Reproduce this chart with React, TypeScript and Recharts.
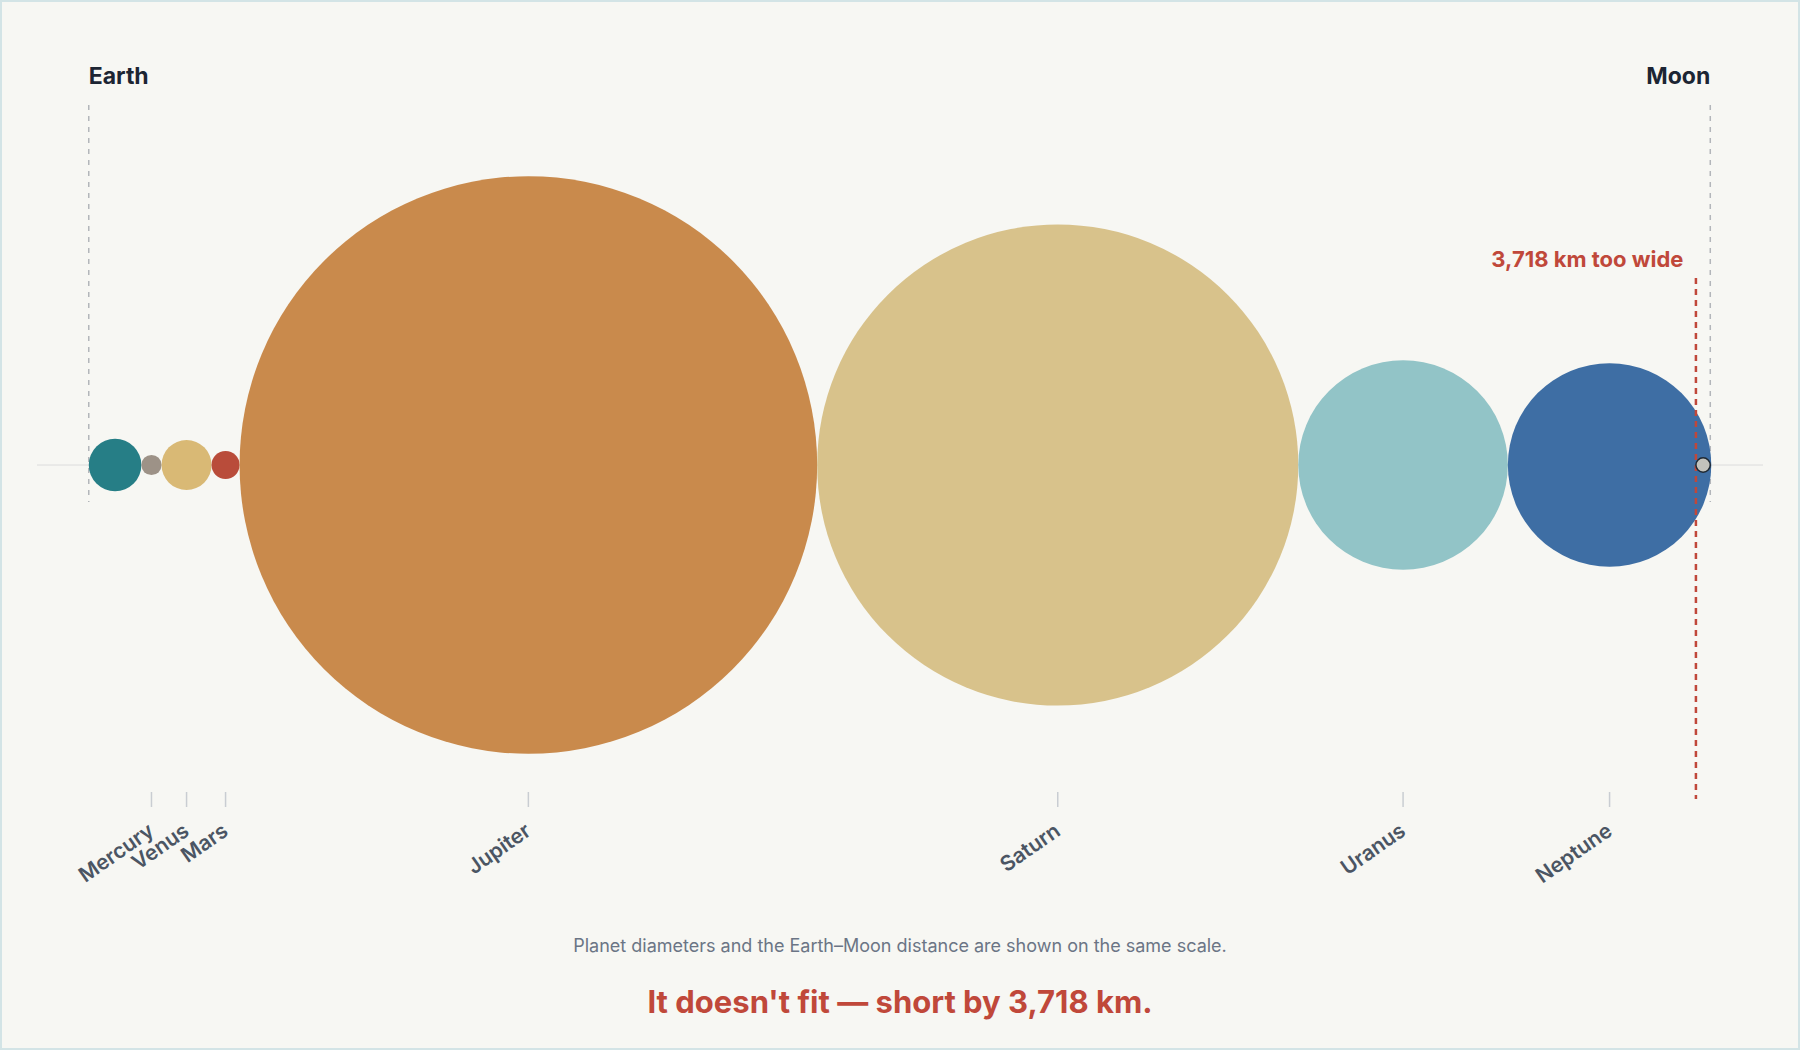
import { ScatterChart, Scatter, XAxis, YAxis, ReferenceLine } from "recharts";

const PLANETS = ["Mercury", "Venus", "Mars", "Jupiter", "Saturn", "Uranus", "Neptune"];
const DIAMETERS_KM = [4879, 12104, 6779, 139820, 116460, 50724, 49244];
const PLANET_COLORS = ["#9d9287", "#d9b975", "#b94c3a", "#c98a4c", "#d8c28b", "#92c4c7", "#3e6ea4"];

const EARTH_RADIUS_KM = 6371;
const MOON_RADIUS_KM = 1737;
const EARTH_MOON_KM = 384400;

const FONT = "Inter, 'Noto Sans', sans-serif";
const RED = "#c0483a";
const INK = "#1c2533";

const WIDTH = 1800;
const HEIGHT = 930;
const MARGIN = { top: 105, right: 37, bottom: 78, left: 37 };
const X_DOMAIN: [number, number] = [-18900, 398900];
// y is kept in pixel-like units, 0 = the line through the circle centres
const Y_DOMAIN: [number, number] = [-327, 360];
const KM_PX = (WIDTH - MARGIN.left - MARGIN.right) / (X_DOMAIN[1] - X_DOMAIN[0]);

// planets laid side by side, starting at Earth's surface
const planetData = (() => {
  let edge = EARTH_RADIUS_KM;
  return PLANETS.map((name, i) => {
    const d = DIAMETERS_KM[i];
    const x = edge + d / 2;
    edge += d;
    return { name, x, y: 0, d, color: PLANET_COLORS[i] };
  });
})();

const earthData = [{ name: "Earth", x: 0, y: 0, d: EARTH_RADIUS_KM * 2, color: "#267e86" }];
const moonData = [{ name: "Moon", x: EARTH_MOON_KM, y: 0, d: MOON_RADIUS_KM * 2, color: "#c2c2bc" }];

const gapKm = EARTH_MOON_KM - EARTH_RADIUS_KM - MOON_RADIUS_KM;
const shortKm = DIAMETERS_KM.reduce((s, d) => s + d, 0) - gapKm;
const shortText = shortKm.toLocaleString("en-US");

const tickValues = planetData.map((p) => p.x);

function Ball(props: any) {
  const { cx, cy, payload } = props;
  const isMoon = payload.name === "Moon";
  return (
    <circle
      cx={cx}
      cy={cy}
      r={(payload.d / 2) * KM_PX}
      fill={payload.color}
      stroke={isMoon ? "#1f2933" : "none"}
      strokeWidth={isMoon ? 1.5 : 0}
    />
  );
}

function PlanetTick(props: any) {
  const { x, y, payload } = props;
  const p = planetData.find((q) => Math.abs(q.x - payload.value) < 1);
  if (!p) return null;
  const tx = x + 4;
  const ty = y + 25;
  return (
    <text
      x={tx}
      y={ty}
      textAnchor="end"
      transform={`rotate(-35, ${tx}, ${ty})`}
      fill="#4b5563"
      fontFamily={FONT}
      fontSize={21}
      fontWeight={600}
    >
      {p.name}
    </text>
  );
}

const edgeLabel =
  (text: string, anchor: "start" | "end", dx: number, dy: number, color: string, size: number) =>
  (props: any) => {
    const vb = props.viewBox || {};
    return (
      <text
        x={vb.x + dx}
        y={vb.y + dy}
        textAnchor={anchor}
        fill={color}
        fontFamily={FONT}
        fontSize={size}
        fontWeight={700}
      >
        {text}
      </text>
    );
  };

export default function App() {
  const earthEdge = -EARTH_RADIUS_KM;
  const moonFar = EARTH_MOON_KM + MOON_RADIUS_KM;
  const moonNear = EARTH_MOON_KM - MOON_RADIUS_KM;

  return (
    <div
      style={{
        position: "absolute",
        left: 0,
        top: 0,
        width: 1800,
        height: 1050,
        background: "#f7f7f3",
        boxShadow: "inset 0 0 0 2px #d3e4e6",
        fontFamily: FONT,
      }}
    >
      <div style={{ position: "absolute", left: 0, top: 0 }}>
        <ScatterChart width={WIDTH} height={HEIGHT} margin={MARGIN}>
          <XAxis
            type="number"
            dataKey="x"
            domain={X_DOMAIN}
            ticks={tickValues}
            interval={0}
            allowDataOverflow
            axisLine={false}
            tickSize={15}
            tickLine={{ stroke: "#c9cdd2", strokeWidth: 1.5 }}
            tick={(props: any) => <PlanetTick {...props} />}
            height={60}
          />
          <YAxis type="number" dataKey="y" domain={Y_DOMAIN} allowDataOverflow hide />
          <ReferenceLine y={0} stroke="#dcdcdc" strokeWidth={1} zIndex={50} />
          <ReferenceLine
            segment={[
              { x: earthEdge, y: 360 },
              { x: earthEdge, y: -37 },
            ]}
            ifOverflow="visible"
            stroke="#b3b6ba"
            strokeWidth={1.5}
            strokeDasharray="5 6"
            zIndex={60}
            label={{ content: edgeLabel("Earth", "start", 0, -21, INK, 23) }}
          />
          <ReferenceLine
            segment={[
              { x: moonFar, y: 360 },
              { x: moonFar, y: -37 },
            ]}
            ifOverflow="visible"
            stroke="#b3b6ba"
            strokeWidth={1.5}
            strokeDasharray="5 6"
            zIndex={60}
            label={{ content: edgeLabel("Moon", "end", 0, -21, INK, 23) }}
          />
          <Scatter data={earthData} shape={Ball} isAnimationActive={false} zIndex={600} />
          <Scatter data={planetData} shape={Ball} isAnimationActive={false} zIndex={600} />
          <ReferenceLine
            segment={[
              { x: moonNear, y: 187 },
              { x: moonNear, y: -334 },
            ]}
            ifOverflow="visible"
            stroke={RED}
            strokeWidth={2.5}
            strokeDasharray="6 5"
            zIndex={700}
            label={{ content: edgeLabel(`${shortText} km too wide`, "end", -12.5, -11, RED, 22) }}
          />
          <Scatter data={moonData} shape={Ball} isAnimationActive={false} zIndex={800} />
        </ScatterChart>
      </div>
      <svg width={1800} height={1050} style={{ position: "absolute", left: 0, top: 0, pointerEvents: "none" }}>
        <text x={900} y={951.5} textAnchor="middle" fill="#6b7585" fontFamily={FONT} fontSize={18}>
          Planet diameters and the Earth–Moon distance are shown on the same scale.
        </text>
        <text x={900} y={1013} textAnchor="middle" fill={RED} fontFamily={FONT} fontSize={31} fontWeight={700}>
          {`It doesn't fit — short by ${shortText} km.`}
        </text>
      </svg>
    </div>
  );
}
